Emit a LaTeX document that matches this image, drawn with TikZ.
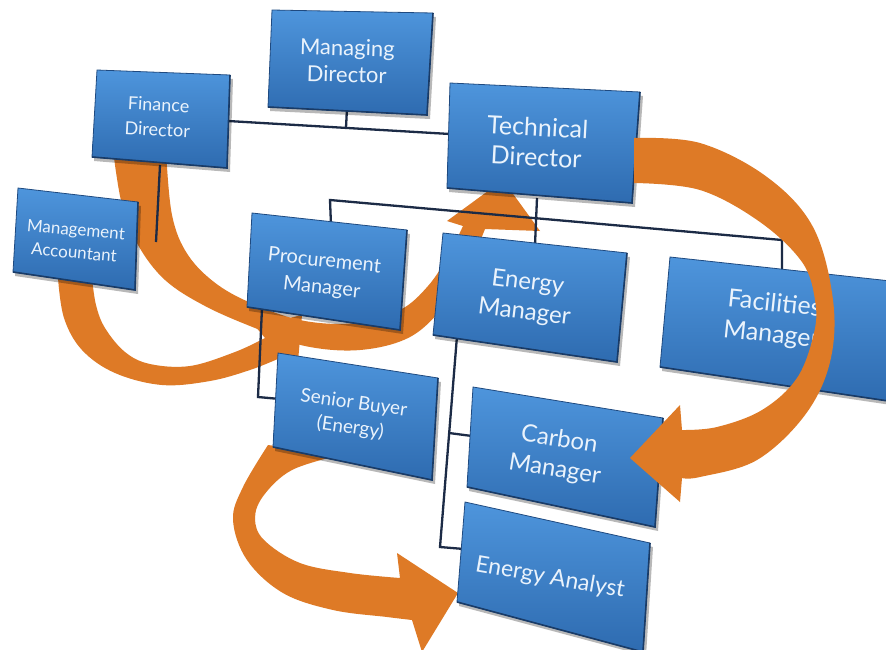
\documentclass[tikz,border=0pt]{standalone}
\usepackage{fontspec}
\setmainfont{Lato}
\definecolor{boxtop}{HTML}{4E95DC}
\definecolor{boxbot}{HTML}{2E6BB0}
\definecolor{boxedge}{HTML}{1F4A80}
\definecolor{linecol}{HTML}{1C2B46}
\definecolor{arrowcol}{HTML}{DE7A26}
\definecolor{txtcol}{HTML}{EAF3FC}
\tikzset{
  conn/.style={draw=linecol, line width=2.3pt},
  arrowfill/.style={fill=arrowcol},
  lbl/.style={text=txtcol, align=center, inner sep=0pt},
}
\newcommand\obox[5]{%
  \coordinate (#1-tl) at (#2);
  \coordinate (#1-tr) at (#3);
  \coordinate (#1-br) at (#4);
  \coordinate (#1-bl) at (#5);
  \fill[black,opacity=.28] ([shift={(2,4)}]#1-tl) -- ([shift={(3,4)}]#1-tr) -- ([shift={(3,4)}]#1-br) -- ([shift={(2,4)}]#1-bl) -- cycle;
  \shade[top color=boxtop,bottom color=boxbot] (#1-tl) -- (#1-tr) -- (#1-br) -- (#1-bl) -- cycle;
  \draw[boxedge, line width=0.8pt] (#1-tl) -- (#1-tr) -- (#1-br) -- (#1-bl) -- cycle;
  \draw[boxedge!80!black, line width=1.6pt] (#1-bl) -- (#1-br) -- (#1-tr);
}
\begin{document}
\begin{tikzpicture}[x=1pt,y=-1pt]
\useasboundingbox (0,0) rectangle (886,649);
\clip (0,0) rectangle (886,649);
\fill[white] (0,0) rectangle (886,649);

% ---- arrows behind boxes ----
% Finance Director -> Technical Director
\fill[arrowfill] plot[smooth, tension=0.6] coordinates {(113,150) (122,205) (138,245) (165,280) (205,306) (255,328) (305,346) (360,350) (410,337) (445,305) (468,268) (485,229)}
  -- (540,231) -- (503,180) -- (447,221) --
  plot[smooth, tension=0.6] coordinates {(463,226) (448,256) (428,286) (400,310) (355,323) (305,321) (258,306) (218,285) (188,255) (172,215) (166,150)} -- cycle;
% Management Accountant -> Procurement Manager
\fill[arrowfill] plot[smooth, tension=0.6] coordinates {(58,278) (64,318) (82,350) (115,373) (162,385) (210,381) (250,370) (280,358)}
  -- (298,362) -- (302,315) -- (255,326) --
  plot[smooth, tension=0.6] coordinates {(265,338) (235,352) (190,366) (150,364) (125,352) (105,328) (96,305) (92,278)} -- cycle;
% Senior Buyer -> Energy Analyst
\fill[arrowfill] plot[smooth, tension=0.6] coordinates {(268,445) (243,487) (233,520) (247,560) (283,593) (333,610) (387,617) (412,620)}
  -- (422,652) -- (458,593) -- (397,553) --
  plot[smooth, tension=0.6] coordinates {(400,578) (350,573) (300,563) (264,540) (255,518) (264,495) (292,470) (340,455)} -- cycle;

% ---- connectors ----
\coordinate (mdS) at (347,108);
\coordinate (mdJ) at (346,127.5);
\coordinate (fdR) at (228,121);
\coordinate (tdL) at (450,134);
\coordinate (fdS) at (160,165);
\coordinate (fdE) at (156,242);
\coordinate (tdS) at (537,198);
\coordinate (emT) at (535,245);
\coordinate (hL) at (330,200);
\coordinate (hR) at (782,240);
\coordinate (pmT) at (331,225);
\coordinate (fmT) at (782,270);
\coordinate (pmS) at (262,308);
\coordinate (pmC) at (258,397);
\coordinate (sbL) at (280,399);
\coordinate (emS) at (457,336);
\coordinate (emC) at (440,547);
\coordinate (eaL) at (464,549);
\coordinate (cmJ) at (449,433);
\coordinate (cmL) at (472,436);

\draw[conn] (fdR) -- (tdL);
\draw[conn] (mdS) -- (mdJ);
\draw[conn] (fdS) -- (fdE);
\draw[conn] (tdS) -- (emT);
\draw[conn] (pmT) -- (hL) -- (hR) -- (fmT);
\draw[conn] (pmS) -- (pmC) -- (sbL);
\draw[conn] (emS) -- (emC) -- (eaL);
\draw[conn] (cmJ) -- (cmL);

% ---- boxes ----
\obox{md}{272,10}{433,13}{427,115}{268,107}
\obox{fd}{97,70}{230,75}{227,168}{92,157}
\obox{ma}{18,188}{138,202}{135,290}{13,272}
\obox{td}{450,83}{640,92}{632,203}{447,188}
\obox{pm}{252,213}{407,230}{400,330}{247,307}
\obox{em}{443,233}{627,253}{617,362}{433,335}
\obox{fm}{670,257}{900,282}{895,402}{660,367}
\obox{sb}{278,353}{438,378}{432,480}{273,447}
\obox{cm}{473,387}{663,418}{655,527}{467,487}
\obox{ea}{465,502}{650,543}{643,652}{457,602}

% ---- labels ----
\node[lbl, rotate=-1.5, font=\fontsize{22}{27}\selectfont] (mdT) at (347,61) {Managing\\Director};
\node[lbl, rotate=-3, font=\fontsize{18}{25}\selectfont] (fdT) at (158,117) {Finance\\Director};
\node[lbl, rotate=-5, font=\fontsize{17}{23}\selectfont] (maT) at (75,241) {Management\\Accountant};
\node[lbl, rotate=-3, font=\fontsize{25}{30}\selectfont] (tdT) at (537,142) {Technical\\Director};
\node[lbl, rotate=-6, font=\fontsize{20}{27}\selectfont] (pmT2) at (323,275) {Procurement\\Manager};
\node[lbl, rotate=-7, font=\fontsize{24}{30}\selectfont] (emT2) at (526,298) {Energy\\Manager};
\node[lbl, rotate=-6, font=\fontsize{25}{31}\selectfont] (fmT2) at (773,320) {Facilities\\Manager};
\node[lbl, rotate=-8, font=\fontsize{19}{25}\selectfont] (sbT) at (352,416) {Senior Buyer\\(Energy)};
\node[lbl, rotate=-9, font=\fontsize{24}{30}\selectfont] (cmT) at (557,455) {Carbon\\Manager};
\node[lbl, rotate=-10, font=\fontsize{23}{28}\selectfont] (eaT) at (550,578) {Energy Analyst};

% ---- arrow on top: Technical Director -> Carbon Manager ----
\fill[arrowfill] plot[smooth, tension=0.6] coordinates {(634,138) (700,143) (767,177) (813,227) (833,300) (830,362) (805,415) (757,460) (700,477) (682,478)}
  -- (680,502) -- (630,458) -- (680,405) --
  plot[smooth, tension=0.6] coordinates {(682,430) (717,427) (762,410) (797,378) (814,333) (815,300) (802,262) (760,222) (700,190) (634,183)} -- cycle;
\end{tikzpicture}
\end{document}
